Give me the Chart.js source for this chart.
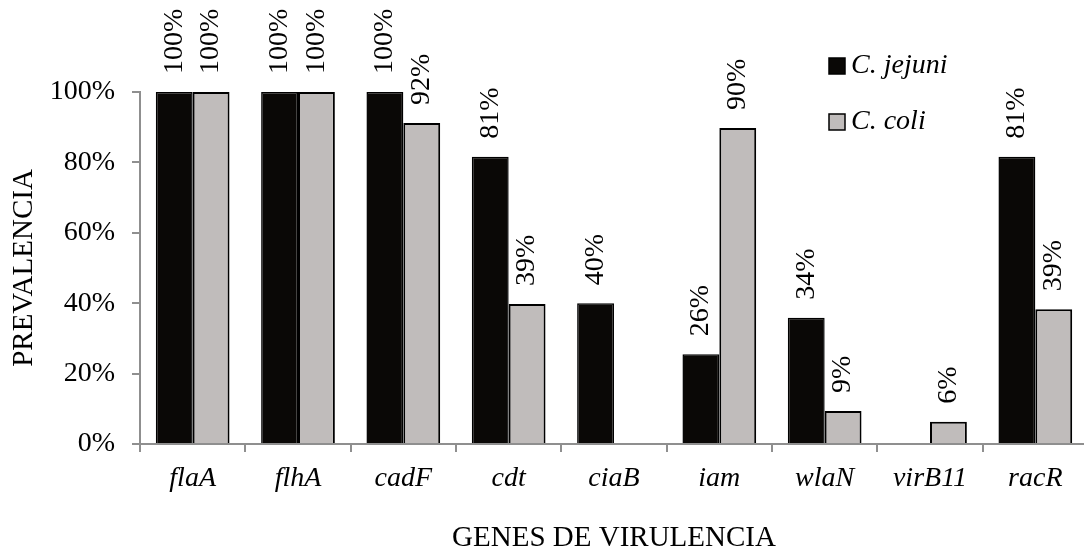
<!DOCTYPE html>
<html>
<head>
<meta charset="utf-8">
<script src="https://cdn.jsdelivr.net/npm/chart.js@4"></script>
<style>
  html, body { margin: 0; padding: 0; overflow: hidden; background: #fff; }
</style>
</head>
<body>
<canvas id="genesChart" width="1088" height="550"></canvas>
<script>
// genes de virulencia
const genes = ['flaA', 'flhA', 'cadF', 'cdt', 'ciaB', 'iam', 'wlaN', 'virB11', 'racR'];
const jejuniValues = [100, 100, 100, 81.6, 40, 25.5, 35.9, 0, 81.6];
const coliValues = [100, 100, 91.2, 39.8, 0, 89.8, 9.4, 6.3, 38.3];
// labels printed above the bars (as in the original figure)
const jejuniLabels = ['100%', '100%', '100%', '81%', '40%', '26%', '34%', '', '81%'];
const coliLabels = ['100%', '100%', '92%', '39%', '', '90%', '9%', '6%', '39%'];

const serif = '"Liberation Serif", "Times New Roman", serif';
const axisGray = '#8f8f8f';

// rotated percentage labels above each bar
const barLabels = {
    id: 'barLabels',
    afterDatasetsDraw(chart) {
        const ctx = chart.ctx;
        const texts = [jejuniLabels, coliLabels];
        ctx.save();
        ctx.font = '28px ' + serif;
        ctx.fillStyle = '#000';
        ctx.textAlign = 'left';
        ctx.textBaseline = 'middle';
        chart.data.datasets.forEach((ds, i) => {
            chart.getDatasetMeta(i).data.forEach((bar, j) => {
                const t = texts[i][j];
                if (!t) return;
                ctx.save();
                ctx.translate(bar.x, bar.y - 18);
                ctx.rotate(-Math.PI / 2);
                ctx.fillText(t, 0, 0);
                ctx.restore();
            });
        });
        ctx.restore();
    }
};

// legend inside the plot, top right
const cornerLegend = {
    id: 'cornerLegend',
    afterDraw(chart) {
        const ctx = chart.ctx;
        const area = chart.chartArea;
        const x = area.right - 259;
        const y0 = area.top - 26;
        ctx.save();
        chart.data.datasets.forEach((ds, i) => {
            const y = y0 + i * 56;
            ctx.fillStyle = ds.backgroundColor;
            ctx.fillRect(x, y - 8, 16, 16);
            ctx.strokeStyle = '#000';
            ctx.lineWidth = 1.5;
            ctx.strokeRect(x, y - 8, 16, 16);
            ctx.fillStyle = '#000';
            ctx.font = 'italic 28px ' + serif;
            ctx.textAlign = 'left';
            ctx.textBaseline = 'middle';
            ctx.fillText(ds.label, x + 22, y);
        });
        ctx.restore();
    }
};

const ctx = document.getElementById('genesChart');
new Chart(ctx, {
    type: 'bar',
    data: {
        labels: genes,
        datasets: [{
            label: 'C. jejuni',
            data: jejuniValues,
            backgroundColor: '#0a0806',
            borderColor: '#000',
            borderWidth: c => c.raw === 0 ? 0 : 1.5
        }, {
            label: 'C. coli',
            data: coliValues,
            backgroundColor: '#c0bcbb',
            borderColor: '#000',
            borderWidth: c => c.raw === 0 ? 0 : 2
        }]
    },
    options: {
        responsive: false,
        animation: false,
        categoryPercentage: 0.7,
        barPercentage: 1.0,
        layout: { padding: { top: 92, right: 0, bottom: 0, left: 0 } },
        plugins: {
            legend: { display: false },
            tooltip: { enabled: false }
        },
        scales: {
            x: {
                grid: { drawOnChartArea: false, drawTicks: true, tickLength: 8, color: axisGray, lineWidth: 2 },
                border: { color: axisGray, width: 2 },
                ticks: {
                    color: '#000',
                    padding: 10,
                    font: { family: serif, size: 28, style: 'italic' }
                },
                title: {
                    display: true,
                    text: 'GENES DE VIRULENCIA',
                    color: '#000',
                    padding: { top: 0, bottom: 0 },
                    font: { family: serif, size: 29, lineHeight: 0.8 }
                },
                afterFit: s => { s.height = 106; }
            },
            y: {
                min: 0,
                max: 100,
                grid: { drawOnChartArea: false, drawTicks: true, tickLength: 8, color: axisGray, lineWidth: 2 },
                border: { color: axisGray, width: 2 },
                ticks: {
                    stepSize: 20,
                    color: '#000',
                    padding: 17,
                    font: { family: serif, size: 28 },
                    callback: v => v + '%'
                },
                title: {
                    display: true,
                    text: 'PREVALENCIA',
                    color: '#000',
                    padding: { top: 10, bottom: 0 },
                    font: { family: serif, size: 29, lineHeight: 1 }
                },
                afterFit: s => { s.width = 140; }
            }
        }
    },
    plugins: [barLabels, cornerLegend]
});
</script>
</body>
</html>
